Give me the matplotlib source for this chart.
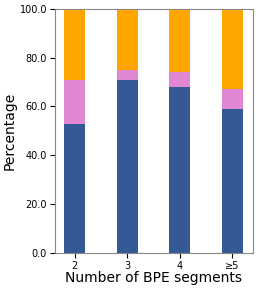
import matplotlib
matplotlib.use("Agg")
import matplotlib.pyplot as plt
from matplotlib.ticker import FormatStrFormatter

categories = ["2", "3", "4", "≥5"]
blue_vals = [53, 71, 68, 59]
pink_vals = [18, 4, 6, 8]
orange_vals = [29, 25, 26, 33]

fig, ax = plt.subplots(figsize=(2.57, 2.89), dpi=100)
x = list(range(len(categories)))
ax.bar(x, blue_vals, width=0.4, color="#345995")
ax.bar(x, pink_vals, width=0.4, bottom=blue_vals, color="#E086D3")
bottom2 = [b + p for b, p in zip(blue_vals, pink_vals)]
ax.bar(x, orange_vals, width=0.4, bottom=bottom2, color="#FFA500")

ax.set_xticks(x)
ax.set_xticklabels(categories)
ax.tick_params(axis="both", labelsize=7, length=3.5, pad=2)
ax.yaxis.set_major_formatter(FormatStrFormatter("%.1f"))
ax.set_ylim(0, 100)
ax.set_xlim(-0.38, 3.4)
ax.set_xlabel("Number of BPE segments", fontsize=10, labelpad=0.5)
ax.set_ylabel("Percentage", fontsize=10, labelpad=2.5)
for s in ax.spines.values():
    s.set_color("#888888")

fig.subplots_adjust(left=0.213, right=0.985, top=0.97, bottom=0.124)
fig.savefig("out.png", dpi=100)
